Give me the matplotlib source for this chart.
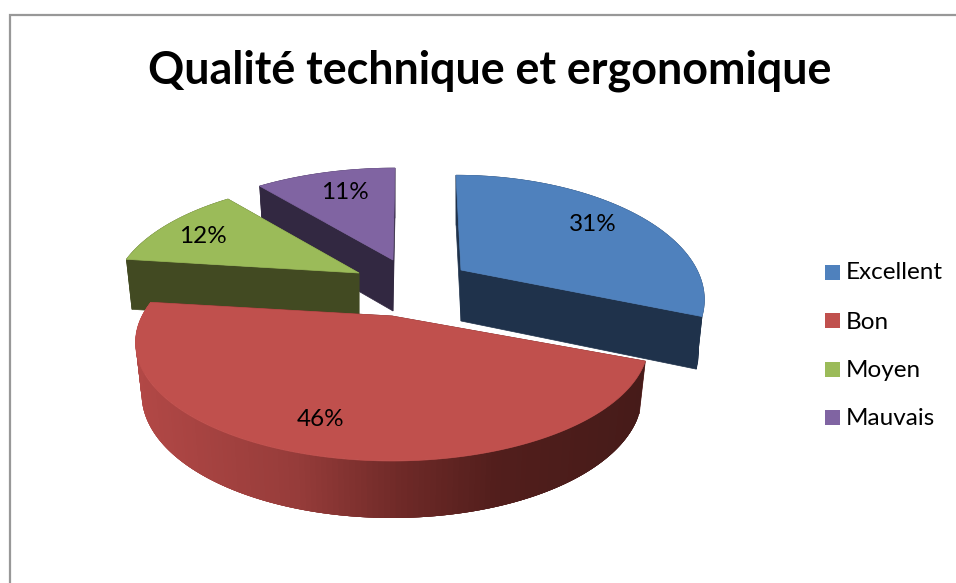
import matplotlib
matplotlib.use('Agg')
import matplotlib.pyplot as plt
from matplotlib.patches import Polygon, Rectangle
import numpy as np

plt.rcParams['font.family'] = ['Lato', 'DejaVu Sans']

# data
title = 'Qualité technique et ergonomique'
categories = ['Excellent', 'Bon', 'Moyen', 'Mauvais']
values = [31, 46, 12, 11]

# colours of the top, the cut faces
top_colors = ['#4f81bd', '#c0504d', '#9bbb59', '#8064a2']
side_colors = ['#1f324b', '#5a201e', '#424a22', '#322841']

# where each exploded slice sits, in pixels
apex_x = [461, 392, 359, 393]
apex_y = [270, 316, 273, 260]
radius_x = [236, 250, 241, 248]
radius_y = [116, 112.5, 112.5, 112.5]
lean = [-5, 0, 0, 2]
label_xy = [(593, 231), (321, 426), (203, 243), (345, 199)]
draw_order = [3, 2, 0, 1]

persp = 0.224
bottom_shrink = 0.976

fig = plt.figure(figsize=(9.56, 5.83), dpi=100)
ax = fig.add_axes([0, 0, 1, 1])
ax.set_xlim(0, 956)
ax.set_ylim(583, 0)
ax.axis('off')

# frame of the chart area, only top and left show
ax.plot([956, 10, 10], [15, 15, 583], color='#989898', lw=1.6, solid_joinstyle='miter')


def project(i, theta):
    X = np.sin(theta)
    Z = np.cos(theta)
    s = 1 / (1 + persp * Z)
    return apex_x[i] + X * radius_x[i] * s + lean[i] * Z, apex_y[i] - Z * radius_y[i] * s


def lower(i, x, theta):
    # same rim point on the bottom of the slice
    d = 50 + 7 * np.maximum(-np.cos(theta), 0)
    return apex_x[i] + (x - apex_x[i]) * bottom_shrink, d


def red_shade(x):
    r = np.interp(x, [136, 300, 400, 500, 645], [178, 150, 112, 82, 70])
    g = np.interp(x, [136, 300, 400, 500, 645], [72, 60, 42, 30, 27])
    b = np.interp(x, [136, 300, 400, 500, 645], [70, 58, 40, 28, 25])
    return (r / 255, g / 255, b / 255)


cum = np.cumsum([0] + values) / sum(values) * 2 * np.pi

for i in draw_order:
    th = np.linspace(cum[i], cum[i + 1], 160)
    x, y = project(i, th)
    xb, d = lower(i, x, th)
    yb = y + d
    ax0, ay0 = apex_x[i], apex_y[i]
    ax1 = ax0
    ay1 = ay0 + 51

    # two cut faces
    for k in [0, -1]:
        ax.add_patch(Polygon([(ax0, ay0), (x[k], y[k]), (xb[k], yb[k]), (ax1, ay1)],
                             closed=True, fc=side_colors[i], ec=side_colors[i], lw=0.5))
    # outer wall, the quads overlap so no seams show
    if i == 1:
        for j in range(len(th) - 1):
            c = red_shade(x[j])
            e = min(j + 4, len(th) - 1)
            ax.add_patch(Polygon(np.r_[np.c_[x[j:e + 1], y[j:e + 1]], np.c_[xb[j:e + 1], yb[j:e + 1]][::-1]],
                                 closed=True, fc=c, ec='none'))
    else:
        ax.add_patch(Polygon(np.r_[np.c_[x, y], np.c_[xb, yb][::-1]],
                             closed=True, fc=side_colors[i], ec=side_colors[i], lw=0.5))
    # top
    ax.add_patch(Polygon(np.r_[[(ax0, ay0)], np.c_[x, y]], closed=True,
                         fc=top_colors[i], ec=top_colors[i], lw=0.5))

for v, (lx, ly) in zip(values, label_xy):
    ax.text(lx, ly, '%d%%' % v, ha='center', va='baseline', fontsize=17.5, color='black')

ax.text(490, 83, title, ha='center', va='baseline', fontsize=32.3, fontweight='bold', color='black')

# legend
legend_top = [265, 313, 362, 410]
legend_base = [279, 329, 377, 425]
for name, c, t, b in zip(categories, top_colors, legend_top, legend_base):
    ax.add_patch(Rectangle((825, t), 15, 15, fc=c, ec='none'))
    ax.text(846, b, name, ha='left', va='baseline', fontsize=17.5, color='black')

fig.savefig('out.png', dpi=100)
